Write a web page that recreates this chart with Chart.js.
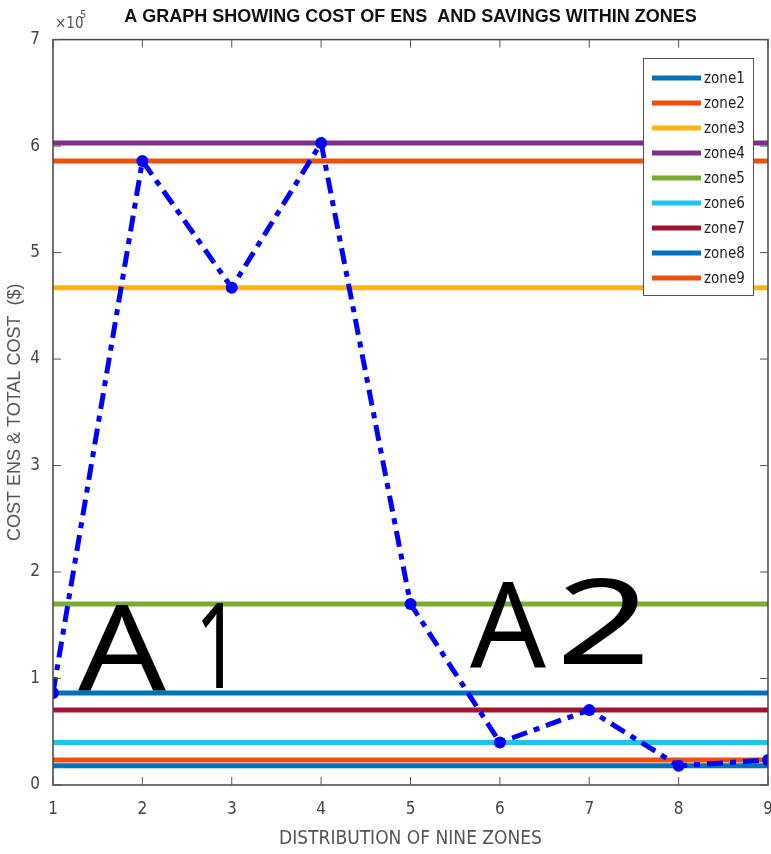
<!DOCTYPE html>
<html>
<head>
<meta charset="utf-8">
<script src="https://cdn.jsdelivr.net/npm/chart.js@4.4.0/dist/chart.umd.min.js"></script>
<style>
  html, body { margin: 0; padding: 0; background: #fff; overflow: hidden; }
  #wrap { width: 785px; height: 854px; }
</style>
</head>
<body>
<div id="wrap"><canvas id="chart"></canvas></div>
<script>
// zone positions along the x axis
const zones = [1, 2, 3, 4, 5, 6, 7, 8, 9];
// cost per zone ($)
const zoneCost = [86500, 586000, 467000, 603000, 170000, 40000, 70500, 18000, 23500];
const zoneNames = ['zone1', 'zone2', 'zone3', 'zone4', 'zone5', 'zone6', 'zone7', 'zone8', 'zone9'];
const zoneColors = ['#0072BD', '#F0500C', '#FDB317', '#7E2F8E', '#77AC30', '#1EC3EE', '#A2142F', '#0072BD', '#F0500C'];
const yTicks = [0, 1, 2, 3, 4, 5, 6, 7];

const narrow = '"DejaVu Sans Condensed", "Liberation Sans", sans-serif';

// flat reference lines, one per zone, spanning the whole x range
const zoneLines = zoneNames.map((name, i) => ({
    label: name,
    data: [{ x: 1, y: zoneCost[i] }, { x: 9, y: zoneCost[i] }],
    borderColor: zoneColors[i],
    backgroundColor: zoneColors[i],
    borderWidth: 5,
    pointRadius: 0,
    order: 2,
}));

const costLine = {
    label: 'cost',
    data: zones.map((z, i) => ({ x: z, y: zoneCost[i] })),
    borderColor: '#0000FF',
    backgroundColor: '#0000FF',
    borderWidth: 5,
    borderDash: [16, 7, 6, 7],
    pointRadius: 6,
    pointBorderWidth: 0,
    tension: 0,
    order: 1,
};

// draw one character stretched horizontally to look like the hand-drawn marks
function drawChar(ctx, ch, left, width, base) {
    const w = ctx.measureText(ch).width;
    ctx.save();
    ctx.translate(left, base);
    ctx.scale(width / w, 1);
    ctx.fillText(ch, 0, 0);
    ctx.restore();
}

const boxAndExtras = {
    id: 'boxAndExtras',
    afterDatasetsDraw(chart) {
        const { ctx, chartArea: a, scales: { x, y } } = chart;
        ctx.save();
        // axes box
        ctx.strokeStyle = '#444';
        ctx.lineWidth = 1.5;
        ctx.strokeRect(a.left, a.top, a.right - a.left, a.bottom - a.top);
        // inward ticks
        ctx.lineWidth = 1;
        ctx.strokeStyle = '#555';
        zones.forEach((z) => {
            const px = x.getPixelForValue(z);
            ctx.beginPath();
            ctx.moveTo(px, a.bottom); ctx.lineTo(px, a.bottom - 8);
            ctx.moveTo(px, a.top); ctx.lineTo(px, a.top + 8);
            ctx.stroke();
        });
        yTicks.forEach((t) => {
            const py = y.getPixelForValue(t * 1e5);
            ctx.beginPath();
            ctx.moveTo(a.left, py); ctx.lineTo(a.left + 8, py);
            ctx.moveTo(a.right, py); ctx.lineTo(a.right - 8, py);
            ctx.stroke();
        });
        // exponent label
        ctx.fillStyle = '#555';
        ctx.font = '15px ' + narrow;
        ctx.textBaseline = 'alphabetic';
        ctx.textAlign = 'left';
        ctx.fillText('\u00d710', a.left + 2, a.top - 12);
        ctx.font = '11px ' + narrow;
        ctx.fillText('5', a.left + 27, a.top - 22);

        // legend
        const lx = 643, ly = 58, lw = 110, lh = 237;
        ctx.fillStyle = '#fff';
        ctx.fillRect(lx, ly, lw, lh);
        ctx.strokeStyle = '#555';
        ctx.lineWidth = 1;
        ctx.strokeRect(lx + 0.5, ly + 0.5, lw, lh);
        ctx.font = '15px ' + narrow;
        ctx.textBaseline = 'middle';
        zoneNames.forEach((name, i) => {
            const ry = ly + 20 + i * 25;
            ctx.strokeStyle = zoneColors[i];
            ctx.lineWidth = 5;
            ctx.beginPath();
            ctx.moveTo(lx + 9, ry); ctx.lineTo(lx + 58, ry);
            ctx.stroke();
            ctx.fillStyle = '#222';
            ctx.fillText(name, lx + 61, ry + 1);
        });

        // handwritten notes
        ctx.fillStyle = '#000';
        ctx.font = '118px "Noto Sans", sans-serif';
        ctx.textBaseline = 'alphabetic';
        drawChar(ctx, 'A', 78, 88, 690);
        drawChar(ctx, '1', 195, 45, 688);
        drawChar(ctx, 'A', 470, 76, 667);
        drawChar(ctx, '2', 556, 95, 664);
        ctx.restore();
    },
};

new Chart(document.getElementById('chart'), {
    type: 'line',
    data: { datasets: [...zoneLines, costLine] },
    options: {
        responsive: true,
        maintainAspectRatio: false,
        animation: false,
        layout: { padding: { left: 0, right: 17, top: 0, bottom: 0 } },
        plugins: {
            legend: { display: false },
            tooltip: { enabled: false },
            title: {
                display: true,
                fullSize: false,
                text: 'A GRAPH SHOWING COST OF ENS  AND SAVINGS WITHIN ZONES',
                color: '#111',
                font: { family: '"Liberation Sans", sans-serif', size: 18, weight: 'bold' },
                padding: { top: 6, bottom: 12 },
            },
        },
        scales: {
            x: {
                type: 'linear',
                min: 1,
                max: 9,
                afterFit: (s) => { s.height = 69; },
                ticks: {
                    stepSize: 1,
                    color: '#444',
                    padding: 6,
                    maxRotation: 0,
                    font: { family: narrow, size: 17 },
                },
                grid: { display: false },
                border: { display: false },
                title: {
                    display: true,
                    text: 'DISTRIBUTION OF NINE ZONES',
                    color: '#555',
                    font: { family: narrow, size: 19 },
                    padding: { top: 8 },
                },
            },
            y: {
                min: 0,
                max: 700000,
                afterFit: (s) => { s.width = 53; },
                ticks: {
                    stepSize: 100000,
                    color: '#444',
                    padding: 5,
                    callback: (v) => v / 1e5,
                    font: { family: narrow, size: 17 },
                },
                grid: { display: false },
                border: { display: false },
                title: {
                    display: true,
                    text: 'COST ENS & TOTAL COST  ($)',
                    color: '#555',
                    font: { family: '"Liberation Sans", sans-serif', size: 18 },
                    padding: { bottom: 0 },
                },
            },
        },
    },
    plugins: [boxAndExtras],
});
</script>
</body>
</html>
